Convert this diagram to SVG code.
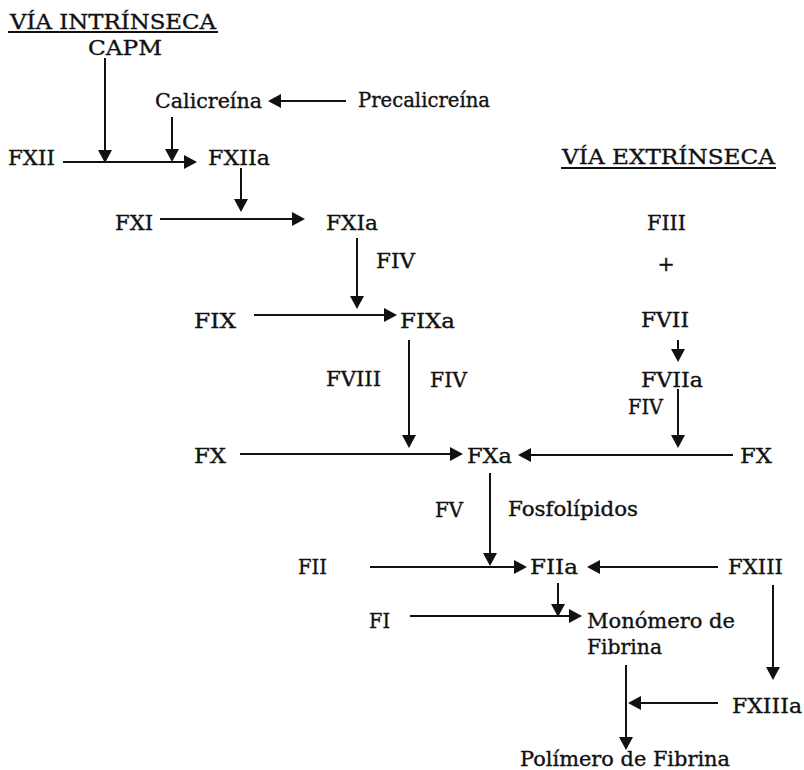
<svg xmlns="http://www.w3.org/2000/svg" width="804" height="770" viewBox="0 0 804 770">
<defs>
<style>
text{font-family:"DejaVu Serif","Liberation Serif",serif;font-size:20.5px;fill:#111;stroke:#111;stroke-width:0.35px;}
.ln{stroke:#111;stroke-width:2;fill:none;}
.c line{stroke:#111;stroke-width:2;marker-end:url(#ah);}
</style>
<marker id="ah" markerUnits="userSpaceOnUse" markerWidth="14" markerHeight="14" refX="7" refY="7" orient="auto">
<path d="M0,0 L13,7 L0,14 z" fill="#111"/>
</marker>
</defs>
<rect width="804" height="770" fill="#fff"/>
<g id="titulo-intrinseca"><text x="10" y="29" textLength="206" lengthAdjust="spacingAndGlyphs">VÍA INTRÍNSECA</text><line class="ln" x1="8" y1="32" x2="218" y2="32"/></g>
<g id="titulo-extrinseca"><text x="562" y="164" textLength="213" lengthAdjust="spacingAndGlyphs">VÍA EXTRÍNSECA</text><line class="ln" x1="561" y1="168" x2="776" y2="168"/></g>
<g id="capm"><text x="88" y="55" textLength="74" lengthAdjust="spacingAndGlyphs">CAPM</text></g>
<g id="calicreina"><text x="155" y="108" textLength="107" lengthAdjust="spacingAndGlyphs">Calicreína</text></g>
<g id="precalicreina"><text x="358" y="107" textLength="132" lengthAdjust="spacingAndGlyphs">Precalicreína</text></g>
<g id="fxii"><text x="8" y="165" textLength="47" lengthAdjust="spacingAndGlyphs">FXII</text></g>
<g id="fxiia"><text x="208" y="165" textLength="62" lengthAdjust="spacingAndGlyphs">FXIIa</text></g>
<g id="fxi"><text x="115" y="230" textLength="38" lengthAdjust="spacingAndGlyphs">FXI</text></g>
<g id="fxia"><text x="326" y="230" textLength="52" lengthAdjust="spacingAndGlyphs">FXIa</text></g>
<g id="fiv-1"><text x="376" y="268" textLength="39" lengthAdjust="spacingAndGlyphs">FIV</text></g>
<g id="fix"><text x="194" y="328" textLength="42" lengthAdjust="spacingAndGlyphs">FIX</text></g>
<g id="fixa"><text x="400" y="328" textLength="55" lengthAdjust="spacingAndGlyphs">FIXa</text></g>
<g id="fviii"><text x="326" y="386" textLength="55" lengthAdjust="spacingAndGlyphs">FVIII</text></g>
<g id="fiv-2"><text x="430" y="387" textLength="37" lengthAdjust="spacingAndGlyphs">FIV</text></g>
<g id="fiii"><text x="647" y="230" textLength="39" lengthAdjust="spacingAndGlyphs">FIII</text></g>
<g id="mas"><text x="666" y="271" text-anchor="middle">+</text></g>
<g id="fvii"><text x="641" y="327" textLength="48" lengthAdjust="spacingAndGlyphs">FVII</text></g>
<g id="fviia"><text x="641" y="387" textLength="62" lengthAdjust="spacingAndGlyphs">FVIIa</text></g>
<g id="fiv-3"><text x="628" y="414" textLength="35" lengthAdjust="spacingAndGlyphs">FIV</text></g>
<g id="fx-1"><text x="194" y="463" textLength="32" lengthAdjust="spacingAndGlyphs">FX</text></g>
<g id="fxa"><text x="467" y="463" textLength="45" lengthAdjust="spacingAndGlyphs">FXa</text></g>
<g id="fx-2"><text x="740" y="463" textLength="32" lengthAdjust="spacingAndGlyphs">FX</text></g>
<g id="fv"><text x="435" y="517" textLength="28" lengthAdjust="spacingAndGlyphs">FV</text></g>
<g id="fosfolipidos"><text x="508" y="516" textLength="130" lengthAdjust="spacingAndGlyphs">Fosfolípidos</text></g>
<g id="fii"><text x="298" y="574" textLength="29" lengthAdjust="spacingAndGlyphs">FII</text></g>
<g id="fiia"><text x="530" y="574" textLength="48" lengthAdjust="spacingAndGlyphs">FIIa</text></g>
<g id="fxiii"><text x="728" y="574" textLength="55" lengthAdjust="spacingAndGlyphs">FXIII</text></g>
<g id="fi"><text x="369" y="628" textLength="21" lengthAdjust="spacingAndGlyphs">FI</text></g>
<g id="monomero"><text x="587" y="628" textLength="148" lengthAdjust="spacingAndGlyphs">Monómero de</text><text x="587" y="654" textLength="75" lengthAdjust="spacingAndGlyphs">Fibrina</text></g>
<g id="fxiiia"><text x="732" y="713" textLength="70" lengthAdjust="spacingAndGlyphs">FXIIIa</text></g>
<g id="polimero"><text x="520" y="766" textLength="210" lengthAdjust="spacingAndGlyphs">Polímero de Fibrina</text></g>
<g id="conectores" class="c">
<line x1="105" y1="58" x2="105" y2="157"/>
<line x1="346" y1="101" x2="274" y2="101"/>
<line x1="172" y1="117" x2="172" y2="156"/>
<line x1="63" y1="162" x2="191" y2="162"/>
<line x1="241" y1="168" x2="241" y2="206"/>
<line x1="160" y1="219" x2="299" y2="219"/>
<line x1="357" y1="238" x2="357" y2="303"/>
<line x1="254" y1="315" x2="391" y2="315"/>
<line x1="409" y1="340" x2="409" y2="442"/>
<line x1="240" y1="454" x2="457" y2="454"/>
<line x1="733" y1="455" x2="524" y2="455"/>
<line x1="678" y1="340" x2="678" y2="356"/>
<line x1="678" y1="389" x2="678" y2="442"/>
<line x1="490" y1="473" x2="490" y2="560"/>
<line x1="370" y1="567" x2="521" y2="567"/>
<line x1="718" y1="567" x2="593" y2="567"/>
<line x1="558" y1="583" x2="558" y2="611"/>
<line x1="410" y1="616" x2="576" y2="616"/>
<line x1="773" y1="585" x2="773" y2="674"/>
<line x1="718" y1="703" x2="634" y2="703"/>
<line x1="626" y1="665" x2="626" y2="744"/>
</g>
</svg>
